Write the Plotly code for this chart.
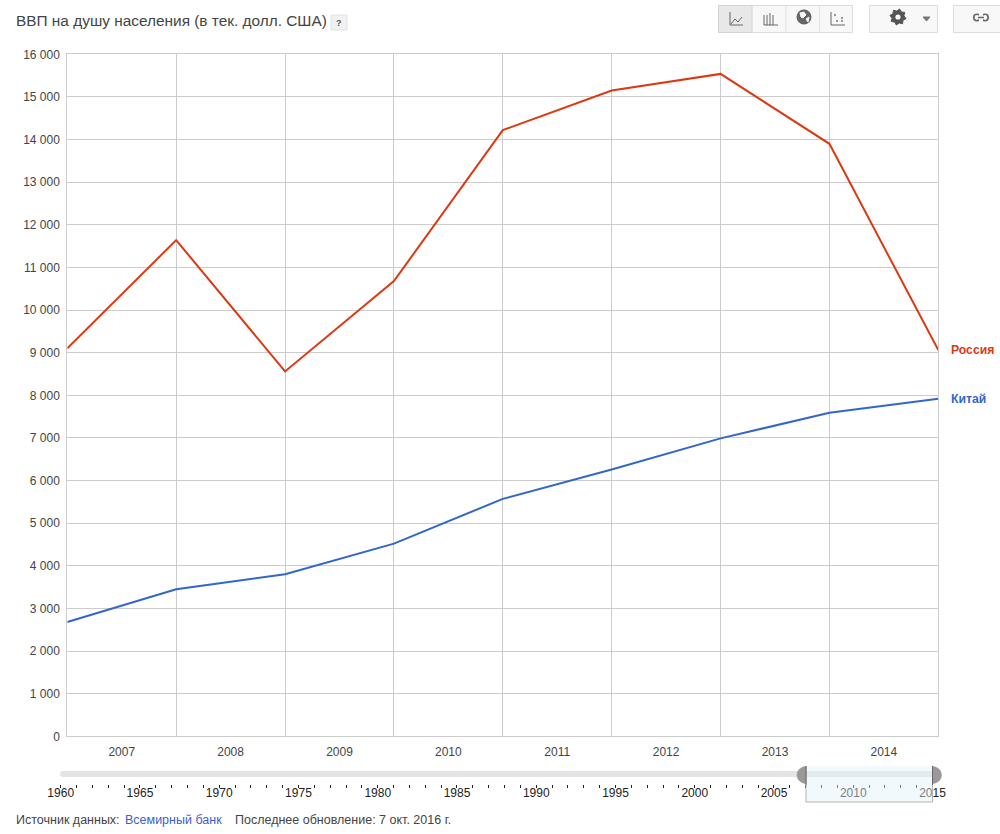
import math
import plotly.graph_objects as go

W, H = 1000, 834
years = [2007, 2008, 2009, 2010, 2011, 2012, 2013, 2014, 2015]
russia = [9100, 11640, 8560, 10680, 14220, 15150, 15540, 13900, 9060]
china = [2680, 3450, 3800, 4520, 5570, 6260, 6990, 7590, 7920]
year_labels = ["2007", "2008", "2009", "2010", "2011", "2012", "2013", "2014"]
y_vals = list(range(0, 16001, 1000))
y_labels = ["0"] + [f"{v // 1000} 000" for v in y_vals[1:]]
tl_vals = list(range(1960, 2016, 5))
tl_labels = [str(v) for v in tl_vals]
sel_start, sel_end = 2007, 2015

FONT = "Liberation Sans, Arial, sans-serif"
RED, BLUE = "#dc3912", "#3366cc"
GRID = "#cccccc"


def X(p): return p / W
def Y(p): return 1 - p / H


shapes = []


def rect(x0, y0, x1, y1, fill="rgba(0,0,0,0)", line=None, layer="above"):
    shapes.append(dict(type="rect", xref="paper", yref="paper", x0=X(x0), x1=X(x1), y0=Y(y0), y1=Y(y1),
                       fillcolor=fill, line=dict(color=line or "rgba(0,0,0,0)", width=1 if line else 0), layer=layer))


def seg(pts, color="#555555", width=1, fill=None):
    path = "M" + " L".join(f"{X(a):.5f},{Y(b):.5f}" for a, b in pts)
    if fill:
        path += " Z"
    shapes.append(dict(type="path", xref="paper", yref="paper", path=path,
                       line=dict(color=color, width=width), fillcolor=fill or "rgba(0,0,0,0)"))


def circle(cx, cy, r, fill="rgba(0,0,0,0)", line=None, width=1):
    shapes.append(dict(type="circle", xref="paper", yref="paper", x0=X(cx - r), x1=X(cx + r), y0=Y(cy + r), y1=Y(cy - r),
                       fillcolor=fill, line=dict(color=line or "rgba(0,0,0,0)", width=width if line else 0)))


# help button
rect(331, 15, 347, 30, "#f1f1f1", "#e2e2e2")
# toolbar
rect(718.5, 5.5, 852.5, 32.5, "#f8f8f8", "#dcdcdc")
rect(718.5, 5.5, 752, 32.5, "#e8e8e8", "#d4d4d4")
for dx in (786, 819.5):
    seg([(dx, 6), (dx, 32)], "#e2e2e2")
rect(869.5, 5.5, 937.5, 32.5, "#f8f8f8", "#dcdcdc")
rect(953.5, 5.5, 1003, 32.5, "#f8f8f8", "#dcdcdc")
# line icon
seg([(730, 12), (730, 25), (743, 25)], "#666666")
seg([(731, 24), (735, 19), (738, 22), (742, 17)], "#666666")
# bar icon
seg([(764, 25), (778, 25)], "#666666")
for bx, by in ((764, 15), (767, 15), (770, 13), (773, 15)):
    seg([(bx, by), (bx, 25)], "#666666")
# globe icon
circle(804, 17, 7.5, "#666666")
seg([(800, 13), (804, 12), (806, 15), (803, 18), (801, 17)], "#f8f8f8", 1, "#f8f8f8")
seg([(806, 19), (809, 17), (808, 22)], "#f8f8f8", 1, "#f8f8f8")
# scatter icon
seg([(831, 12), (831, 25), (845, 25)], "#666666")
for sx, sy in ((835, 15), (837, 21), (842, 18), (842, 21)):
    rect(sx - 0.8, sy - 0.8, sx + 0.8, sy + 0.8, "#555555")
# gear icon
gear = []
for i in range(16):
    a = i * math.pi / 8 + math.pi / 16
    r = 8.2 if i % 2 == 0 else 6
    gear.append((898 + r * math.cos(a), 17 + r * math.sin(a)))
seg(gear, "#555555", 1, "#555555")
circle(898, 17, 2.6, "#f8f8f8")
seg([(923, 17), (930, 17), (926.5, 21)], "#777777", 1, "#777777")
# link icon
circle(977, 17.5, 3.2, None, "#666666", 1.6)
circle(985, 17.5, 3.2, None, "#666666", 1.6)
rect(979, 13, 983, 22, "#f8f8f8")
seg([(978, 17.5), (984, 17.5)], "#666666", 1.5)

# timeline selection, track and handles
shapes.append(dict(type="path", xref="paper", yref="paper", layer="below",
                   path=f"M{X(63)},{Y(771)} L{X(932)},{Y(771)} L{X(932)},{Y(777)} L{X(63)},{Y(777)} "
                        f"Q{X(60)},{Y(777)} {X(60)},{Y(774)} Q{X(60)},{Y(771)} {X(63)},{Y(771)} Z",
                   line=dict(width=0), fillcolor="#e4e4e4"))
shapes.append(dict(type="rect", xref="x2", yref="paper", x0=sel_start, x1=sel_end, y0=Y(802), y1=Y(766),
                   fillcolor="rgba(225,242,250,0.45)", line=dict(width=0), layer="above"))
shapes.append(dict(type="path", xref="paper", yref="paper",
                   path=f"M{X(806)},{Y(766)} L{X(806)},{Y(802)} L{X(932.5)},{Y(802)} L{X(932.5)},{Y(766)}",
                   line=dict(color="#b5b5b5", width=1), fillcolor="rgba(0,0,0,0)"))
for cx, a0, a1 in ((806, 90, 270), (932.5, -90, 90)):
    pts = [(cx + 9 * math.cos(math.radians(a0 + (a1 - a0) * k / 24)), 775 - 8.5 * math.sin(math.radians(a0 + (a1 - a0) * k / 24)))
           for k in range(25)]
    seg(pts, "#999999", 0.5, "#999999")
    seg([(cx, 766), (cx, 785)], "#666666", 1)

fig = go.Figure()
fig.add_trace(go.Scatter(x=years, y=russia, mode="lines", line=dict(color=RED, width=2), showlegend=False, name="Россия"))
fig.add_trace(go.Scatter(x=years, y=china, mode="lines", line=dict(color=BLUE, width=2), showlegend=False, name="Китай"))
# invisible carrier for the timeline axis
fig.add_trace(go.Scatter(x=[1960, 2015], y=[0, 0], xaxis="x2", yaxis="y2", mode="markers",
                         marker=dict(opacity=0), showlegend=False, hoverinfo="skip"))


def note(text, px, py, color="#444444", size=12, anchor="left", **kw):
    return dict(text=text, x=X(px), y=Y(py), xref="paper", yref="paper", xanchor=anchor, yanchor="middle",
                showarrow=False, font=dict(color=color, size=size, family=FONT), **kw)


annotations = [
    note("ВВП на душу населения (в тек. долл. США)", 13.5, 21, "#444444", 15.4),
    note("<b>?</b>", 339, 22.5, "#555555", 9, anchor="center"),
    note("Источник данных:", 13.5, 820, "#444444", 12.5),
    note("Всемирный банк", 122.5, 820, "#3b5fd0", 12.5),
    note("Последнее обновление: 7 окт. 2016 г.", 232.5, 820, "#444444", 12.5),
    dict(text="<b>Россия</b>", x=years[-1], y=russia[-1], xref="x", yref="y", xanchor="left", yanchor="middle", xshift=11,
         showarrow=False, font=dict(color=RED, size=12.2, family=FONT)),
    dict(text="<b>Китай</b>", x=years[-1], y=china[-1], xref="x", yref="y", xanchor="left", yanchor="middle", xshift=11,
         showarrow=False, font=dict(color=BLUE, size=12.2, family=FONT)),
]

fig.update_layout(
    width=W, height=H, margin=dict(l=0, r=0, t=0, b=0, autoexpand=False), paper_bgcolor="white", plot_bgcolor="white",
    font=dict(family=FONT, size=12, color="#444444"), shapes=shapes, annotations=annotations, hovermode=False,
    xaxis=dict(domain=[X(67.3), X(938.3)], range=[2007, 2015], tickmode="array",
               tickvals=[y + 0.5 for y in years[:-1]], ticktext=year_labels, ticks="outside", ticklen=4,
               tickcolor="rgba(0,0,0,0)", showgrid=False, zeroline=False, showline=True, linecolor=GRID, mirror=True,
               minor=dict(tickmode="array", tickvals=years, showgrid=True, gridcolor=GRID, gridwidth=1, ticks=""),
               tickfont=dict(size=12, color="#444444"), anchor="y"),
    yaxis=dict(domain=[Y(736.3), Y(54.3)], range=[0, 16000], tickmode="array", tickvals=y_vals, ticktext=y_labels,
               gridcolor=GRID, gridwidth=1, zeroline=False, showline=True, linecolor=GRID, mirror=True, ticks="outside",
               ticklen=4, tickcolor="rgba(0,0,0,0)", tickfont=dict(size=12, color="#444444"), anchor="x"),
    xaxis2=dict(domain=[X(60.7), X(932.5)], range=[1960, 2015], tickmode="array", tickvals=tl_vals, ticktext=tl_labels,
                ticks="outside", ticklen=3, tickcolor="#222222", tickwidth=1, showgrid=False, zeroline=False,
                showline=False, anchor="y2", tickfont=dict(size=12, color="#222222"), ticklabelstandoff=-5,
                minor=dict(tickmode="array", tickvals=list(range(1960, 2016)), ticks="outside", ticklen=3,
                           tickcolor="#222222", tickwidth=1, showgrid=False)),
    yaxis2=dict(domain=[Y(784), Y(783)], visible=False, anchor="x2", range=[-1, 1]),
)

fig.write_html("out.html", config=dict(displayModeBar=False), post_script="document.body.style.margin='0';")
